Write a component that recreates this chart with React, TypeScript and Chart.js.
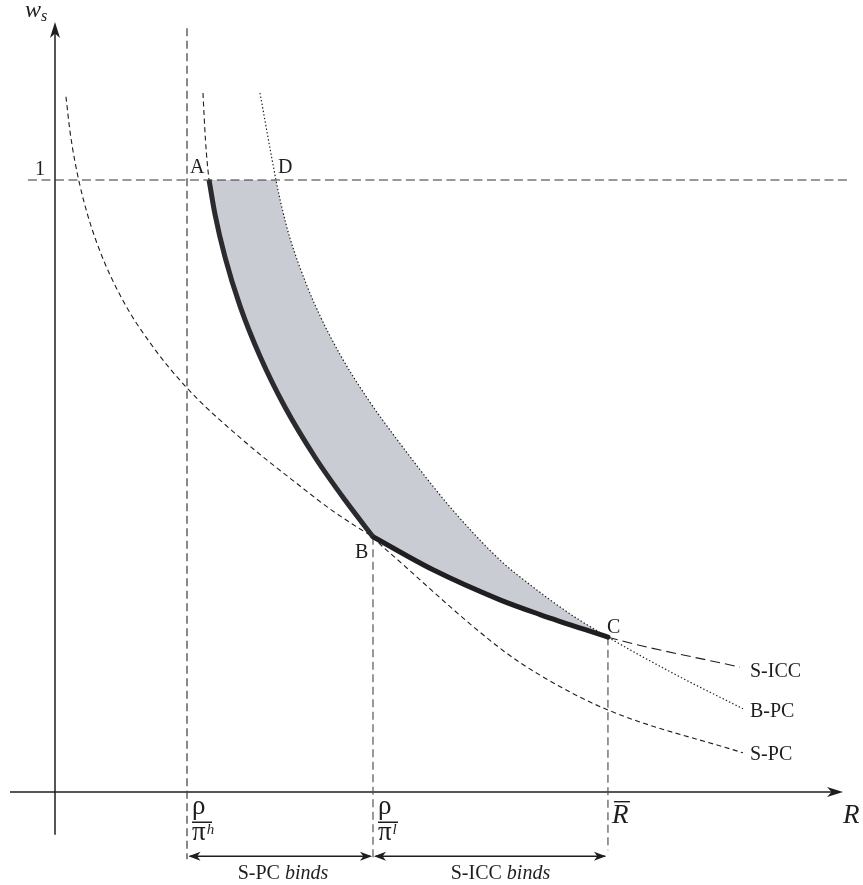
import React, { useEffect, useRef } from 'react';
import { Chart, registerables } from 'chart.js';

Chart.register(...registerables);

// Curves: R on the horizontal axis, w_s on the vertical axis
const sIccR = [0.083, 0.114, 0.152, 0.22, 0.333, 0.515, 0.72, 1.0, 1.402, 1.856, 2.106, 2.409, 2.864, 3.371, 3.674, 4.189, 5.189];
const sIccW = [1.136, 1.079, 1.029, 0.964, 0.888, 0.803, 0.734, 0.66, 0.579, 0.5, 0.459, 0.417, 0.363, 0.314, 0.29, 0.253, 0.204];
const sPcR = [1.121, 1.14, 1.167, 1.212, 1.288, 1.402, 1.553, 1.742, 1.97, 2.197, 2.409, 2.614, 3.371, 3.674, 4.189, 5.212];
const sPcW = [1.142, 1.065, 1.0, 0.944, 0.874, 0.794, 0.712, 0.629, 0.547, 0.477, 0.417, 0.376, 0.235, 0.191, 0.134, 0.064];
const bPcR = [1.553, 1.674, 1.72, 1.78, 1.909, 2.008, 2.159, 2.364, 2.591, 2.992, 3.371, 3.621, 3.902, 4.189, 4.682, 5.212];
const bPcW = [1.142, 1.0, 0.954, 0.905, 0.827, 0.778, 0.715, 0.644, 0.576, 0.466, 0.379, 0.335, 0.291, 0.253, 0.194, 0.136];
// marked R values: rho/pi^h, rho/pi^l, R-bar
const xMarkR = [1.0, 2.409, 4.189];
const wOne = 1;
const curveNames = ['S-ICC', 'B-PC', 'S-PC'];
const pointNames = ['A', 'B', 'C', 'D'];
const bindNames = [['S-PC ', 'binds'], ['S-ICC ', 'binds']];
const superNames = ['h', 'l'];

// drawing extents (in data units)
const X_MIN = -55 / 132, X_MAX = 808 / 132, Y_MIN = -93 / 612, Y_MAX = 792 / 612;
const rAxisFrom = -0.341, rAxisTo = 5.97, wAxisFrom = -0.07, wAxisTo = 1.258;
const wGuideTop = 1.248, wGuideBottom = -0.11, wRbarBottom = -0.095, wBind = -0.105;
const rGuideLeft = -0.205, rGuideRight = 6.02;

type P = { x: number; y: number };
const pts = (r: number[], w: number[]): P[] => r.map((v, i) => ({ x: v, y: w[i] }));

const SERIF = '"Liberation Serif", "Times New Roman", serif';
const INK = '#1e1e1e';

function arrowHead(ctx: CanvasRenderingContext2D, tx: number, ty: number, dx: number, dy: number, len: number, half: number) {
  const nx = -dy, ny = dx;
  const bx = tx - dx * len, by = ty - dy * len;
  const mx = tx - dx * len * 0.72, my = ty - dy * len * 0.72;
  ctx.beginPath();
  ctx.moveTo(tx, ty);
  ctx.lineTo(bx + nx * half, by + ny * half);
  ctx.lineTo(mx, my);
  ctx.lineTo(bx - nx * half, by - ny * half);
  ctx.closePath();
  ctx.fill();
}

export default function App() {
  const ref = useRef<HTMLCanvasElement | null>(null);

  useEffect(() => {
    if (!ref.current) return;
    const sIcc = pts(sIccR, sIccW);
    const sPc = pts(sPcR, sPcW);
    const bPc = pts(bPcR, bPcW);
    const A = sPc.find((p) => p.y === wOne) as P;
    const D = bPc.find((p) => p.y === wOne) as P;
    const B = sIcc.find((p) => p.x === xMarkR[1]) as P;
    const C = sIcc.find((p) => p.x === xMarkR[2]) as P;

    const thickAB = sPc.filter((p) => p.y <= wOne && p.x <= B.x);
    const thickBC = sIcc.filter((p) => p.x >= B.x && p.x <= C.x);
    const lower = [...thickAB, ...thickBC.slice(1)];
    const fillB = bPc.filter((p) => p.y <= wOne && p.x <= C.x);

    const line = (data: P[], extra: any) => ({
      type: 'scatter' as const,
      data,
      showLine: true,
      pointRadius: 0,
      fill: false,
      borderColor: INK,
      borderWidth: 1.1,
      tension: 0,
      ...extra,
    });
    const smooth = { cubicInterpolationMode: 'monotone', tension: 0.4 };

    const datasets: any[] = [
      line(thickAB, { ...smooth, borderColor: '#2b2b2f', borderWidth: 5, borderCapStyle: 'butt' }),
      line(thickBC, { ...smooth, borderColor: '#1f1f22', borderWidth: 5, borderCapStyle: 'round' }),
      line(sPc, { ...smooth, borderDash: [5, 3.5] }),
      line(sIcc, {
        ...smooth,
        borderDash: [5, 3.5],
        segment: { borderDash: (c: any) => (c.p0.parsed.x >= C.x - 1e-9 ? [10, 5] : [5, 3.5]) },
      }),
      line(bPc, { ...smooth, borderDash: [1.4, 2.2], borderWidth: 1.2 }),
      // guides
      line([{ x: xMarkR[0], y: wGuideTop }, { x: xMarkR[0], y: wGuideBottom }], { borderColor: '#3a3a3a', borderWidth: 1.2, borderDash: [8, 4.5] }),
      line([{ x: xMarkR[1], y: B.y }, { x: xMarkR[1], y: wGuideBottom }], { borderColor: '#555', borderWidth: 1.2, borderDash: [8, 4.5] }),
      line([{ x: xMarkR[2], y: C.y }, { x: xMarkR[2], y: wRbarBottom }], { borderColor: '#555', borderWidth: 1.2, borderDash: [8, 4.5] }),
      line([{ x: rGuideLeft, y: wOne }, { x: rGuideRight, y: wOne }], { borderColor: '#333', borderWidth: 1.1, borderDash: [9, 4.5] }),
      // axes
      line([{ x: rAxisFrom, y: 0 }, { x: rAxisTo - 0.05, y: 0 }], { borderWidth: 1.5 }),
      line([{ x: 0, y: wAxisFrom }, { x: 0, y: wAxisTo - 0.01 }], { borderWidth: 1.5 }),
      // bind arrows
      line([{ x: xMarkR[0] + 0.02, y: wBind }, { x: xMarkR[1] - 0.02, y: wBind }], { borderWidth: 1.3 }),
      line([{ x: xMarkR[1] + 0.02, y: wBind }, { x: xMarkR[2] - 0.02, y: wBind }], { borderWidth: 1.3 }),
    ];
    const lowerIndex = datasets.length;
    datasets.push(line(lower, { borderWidth: 0 }));
    datasets.push(line([A, D], { borderWidth: 0, backgroundColor: '#c9ccd3', fill: lowerIndex }));
    datasets.push(line(fillB, { ...smooth, borderWidth: 0, backgroundColor: '#c9ccd3', fill: lowerIndex }));

    const overlay = {
      id: 'overlay',
      afterDatasetsDraw(chart: any) {
        const ctx: CanvasRenderingContext2D = chart.ctx;
        const X = (v: number) => chart.scales.x.getPixelForValue(v);
        const Y = (v: number) => chart.scales.y.getPixelForValue(v);
        ctx.save();
        ctx.fillStyle = INK;
        ctx.strokeStyle = INK;

        // axis arrowheads
        arrowHead(ctx, X(rAxisTo), Y(0), 1, 0, 16, 5);
        arrowHead(ctx, X(0), Y(wAxisTo), 0, -1, 16, 5);
        // bind arrowheads
        const yb = Y(wBind);
        arrowHead(ctx, X(xMarkR[0]) + 1.5, yb, -1, 0, 12, 4.5);
        arrowHead(ctx, X(xMarkR[1]) - 1, yb, 1, 0, 12, 4.5);
        arrowHead(ctx, X(xMarkR[1]) + 1, yb, -1, 0, 12, 4.5);
        arrowHead(ctx, X(xMarkR[2]) - 2, yb, 1, 0, 12, 4.5);

        ctx.textBaseline = 'alphabetic';
        // "1"
        ctx.font = `20px ${SERIF}`;
        ctx.textAlign = 'right';
        ctx.fillText('1', X(0) - 10, Y(wOne) - 5);
        ctx.textAlign = 'left';
        // point labels
        ctx.fillText(pointNames[0], X(A.x) - 19, Y(wOne) - 7);
        ctx.fillText(pointNames[1], X(B.x) - 18, Y(B.y) + 21);
        ctx.fillText(pointNames[2], X(C.x) - 1, Y(C.y) - 4);
        ctx.fillText(pointNames[3], X(D.x) + 2, Y(wOne) - 7);
        // curve names
        const ends = [sIcc[sIcc.length - 1], bPc[bPc.length - 1], sPc[sPc.length - 1]];
        const offs = [[10, 10], [7, 8], [7, 7]];
        curveNames.forEach((n, i) => ctx.fillText(n, X(ends[i].x) + offs[i][0], Y(ends[i].y) + offs[i][1]));

        // rho / pi labels
        const y0 = Y(0);
        [0, 1].forEach((i) => {
          const px = X(xMarkR[i]);
          ctx.font = `27px ${SERIF}`;
          ctx.fillText('ρ', px + 5, y0 + 22);
          ctx.fillRect(px + 5, y0 + 29.5, 20, 1.5);
          ctx.fillText('π', px + 5, y0 + 48);
          const pw = ctx.measureText('π').width;
          ctx.font = `italic 15px ${SERIF}`;
          ctx.fillText(superNames[i], px + 6 + pw, y0 + 42);
        });
        // R bar
        const rx = X(xMarkR[2]);
        ctx.font = `italic 27px ${SERIF}`;
        ctx.fillText('R', rx + 4, y0 + 31);
        ctx.fillRect(rx + 6, y0 + 9, 16, 1.4);
        // R axis label
        ctx.fillText('R', X(rAxisTo), y0 + 31);
        // w_s
        ctx.font = `italic 24px ${SERIF}`;
        const wx = X(0) - 30;
        ctx.fillText('w', wx, Y(wAxisTo) - 5);
        const ww = ctx.measureText('w').width;
        ctx.font = `italic 16px ${SERIF}`;
        ctx.fillText('s', wx + ww, Y(wAxisTo) - 1);

        // bind labels
        const bOff = [3, 10];
        bindNames.forEach((parts, i) => {
          ctx.font = `20px ${SERIF}`;
          const w1 = ctx.measureText(parts[0]).width;
          ctx.font = `italic 20px ${SERIF}`;
          const w2 = ctx.measureText(parts[1]).width;
          const cx = (X(xMarkR[i]) + X(xMarkR[i + 1])) / 2 + bOff[i];
          const left = cx - (w1 + w2) / 2;
          ctx.font = `20px ${SERIF}`;
          ctx.fillText(parts[0], left, y0 + 87);
          ctx.font = `italic 20px ${SERIF}`;
          ctx.fillText(parts[1], left + w1, y0 + 87);
        });
        ctx.restore();
      },
    };

    const chart = new Chart(ref.current, {
      type: 'scatter',
      data: { datasets },
      options: {
        responsive: false,
        animation: false,
        events: [],
        layout: { padding: 0 },
        scales: {
          x: { type: 'linear', min: X_MIN, max: X_MAX, display: false },
          y: { type: 'linear', min: Y_MIN, max: Y_MAX, display: false },
        },
        plugins: {
          legend: { display: false },
          tooltip: { enabled: false },
          filler: { drawTime: 'beforeDatasetsDraw' },
        },
      } as any,
      plugins: [overlay],
    });
    return () => chart.destroy();
  }, []);

  return (
    <div style={{ position: 'absolute', left: 0, top: 0, width: 863, height: 885, background: '#fff' }}>
      <canvas ref={ref} width={863} height={885} style={{ width: 863, height: 885, display: 'block' }} />
    </div>
  );
}
